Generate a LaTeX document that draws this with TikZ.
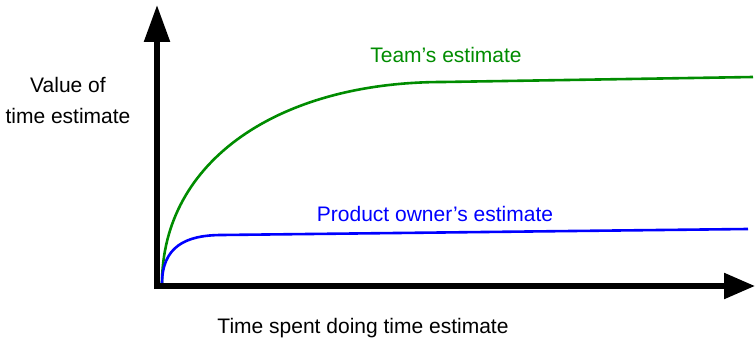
\documentclass[tikz,border=0pt]{standalone}
\usepackage{fontspec}
\setmainfont{Liberation Sans}
\usetikzlibrary{arrows.meta}
\definecolor{teamgreen}{RGB}{0,140,0}
\definecolor{poblue}{RGB}{0,0,255}
\tikzset{
  axis/.style={line width=5.5pt},
  curve/.style={line width=2.6pt},
  lbl/.style={inner sep=0pt, font=\fontsize{21}{31}\selectfont}
}
\begin{document}
\begin{tikzpicture}[x=1pt,y=-1pt]
\useasboundingbox (0,0) rectangle (756,342);
% origin and axis ends
\coordinate (o) at (157,286);
\coordinate (ytop) at (157,5);
\coordinate (xend) at (755,286);
\coordinate (gstart) at (162,284);
\coordinate (gknee) at (443,82);
\coordinate (gend) at (753,77);
\coordinate (bstart) at (162,284);
\coordinate (bknee) at (222,235);
\coordinate (bend) at (748,229);
% curves
\draw[curve, teamgreen] (gstart) .. controls (162,160) and (280,82) .. (gknee) -- (gend);
\draw[curve, poblue] (bstart) .. controls (162,247) and (185,235) .. (bknee) -- (bend);
% axes
\draw[axis, -{Triangle[length=37pt,width=25pt]}] (157,289) -- (ytop);
\draw[axis, -{Triangle[length=31pt,width=25pt]}] (154.25,286) -- (xend);
% labels
\node[lbl, text=teamgreen, anchor=base] (team) at (446,63) {Team’s estimate};
\node[lbl, text=poblue, anchor=base] (po) at (435,222) {Product owner’s estimate};
\node[lbl, anchor=base] (xl) at (363,333) {Time spent doing time estimate};
\node[lbl, align=center] (yl) at (68,100) {Value of\\time estimate};
\end{tikzpicture}
\end{document}
